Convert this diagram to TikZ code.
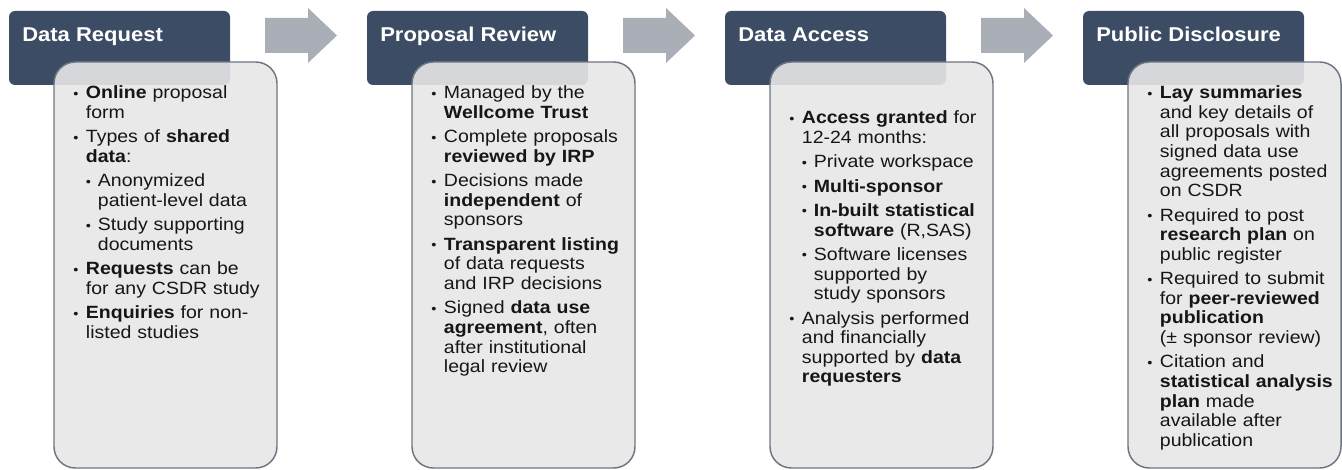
\documentclass[tikz,border=0pt]{standalone}
\usepackage{fontspec}
\setmainfont{Liberation Sans}[FakeStretch=1.1]
\usetikzlibrary{calc}

\definecolor{headblue}{RGB}{61,76,101}
\definecolor{panelgray}{RGB}{231,231,232}
\definecolor{panelline}{RGB}{110,117,130}
\definecolor{arrowgray}{RGB}{170,174,182}
\definecolor{inkblack}{RGB}{22,22,22}

% bullets with hanging indent
\newcommand{\dotmark}{\raisebox{0.05ex}{\scalebox{0.75}{\textbullet}}}
\newcommand{\pitem}{\par\hangindent=9.5pt\hangafter=1\noindent\makebox[9.5pt][l]{\dotmark}}
\newcommand{\psubitem}{\par\hangindent=18.5pt\hangafter=1\noindent\hspace*{9.5pt}\makebox[9pt][l]{\dotmark}}

\tikzset{
  head/.style={fill=headblue, rounded corners=4.5pt},
  headtext/.style={anchor=base west, inner sep=0pt, text=white, font=\fontsize{15}{18}\selectfont\bfseries},
  panel/.style={fill=panelgray, fill opacity=0.9, draw=panelline, line width=1.1pt, rounded corners=16pt},
  listtext/.style={anchor=north west, inner sep=0pt, text width=190pt, text=inkblack,
    font=\fontsize{13.3}{14.7}\selectfont\setlength{\parskip}{3.6pt}},
  flow/.style={fill=arrowgray}
}

\begin{document}
\begin{tikzpicture}[x=0.75pt, y=-0.75pt]
\useasboundingbox (0,0) rectangle (1342,470);

% arrows between the steps
\foreach \i in {0,1,2}
{	\fill[flow] ({265+358*\i},18) -- ++(43,0) -- ++(0,-10) -- ++(29,27.5) -- ++(-29,27.5) -- ++(0,-10) -- ++(-43,0) -- cycle;
}

% headers
\foreach \i/\name/\title in {0/hreq/Data Request, 1/hrev/Proposal Review, 2/hacc/Data Access, 3/hpub/Public Disclosure}
{	\fill[head] ({9+358*\i},11) rectangle ++(221,74);
	\node[headtext] (\name) at ({22+358*\i},42) {\title};
}

% panels
\foreach \i/\w in {0/223, 1/223, 2/223, 3/213}
{	\filldraw[panel] ({54+358*\i},62) rectangle ++(\w,406);
}

\node[listtext] (treq) at (73,74) {%
\pitem\textbf{Online} proposal\newline form
\pitem Types of \textbf{shared\newline data}:
\psubitem Anonymized\newline patient-level data
\psubitem Study supporting\newline documents
\pitem\textbf{Requests} can be\newline for any CSDR study
\pitem\textbf{Enquiries} for non-\newline listed studies\par};

\node[listtext] (trev) at (431,74) {%
\pitem Managed by the\newline \textbf{Wellcome Trust}
\pitem Complete proposals\newline \textbf{reviewed by IRP}
\pitem Decisions made\newline \textbf{independent} of\newline sponsors
\pitem\textbf{Transparent listing}\newline of data requests\newline and IRP decisions
\pitem Signed \textbf{data use\newline agreement}, often\newline after institutional\newline legal review\par};

\node[listtext] (tacc) at (789,99) {%
\pitem\textbf{Access granted} for\newline 12-24 months:
\psubitem Private workspace
\psubitem\textbf{Multi-sponsor}
\psubitem\textbf{In-built statistical\newline software} (R,SAS)
\psubitem Software licenses\newline supported by\newline study sponsors
\pitem Analysis performed\newline and financially\newline supported by \textbf{data\newline requesters}\par};

\node[listtext] (tpub) at (1147,74) {%
\pitem\textbf{Lay summaries}\newline and key details of\newline all proposals with\newline signed data use\newline agreements posted\newline on CSDR
\pitem Required to post\newline \textbf{research plan} on\newline public register
\pitem Required to submit\newline for \textbf{peer-reviewed\newline publication}\newline (± sponsor review)
\pitem Citation and\newline \textbf{statistical analysis\newline plan} made\newline available after\newline publication\par};
\end{tikzpicture}
\end{document}
